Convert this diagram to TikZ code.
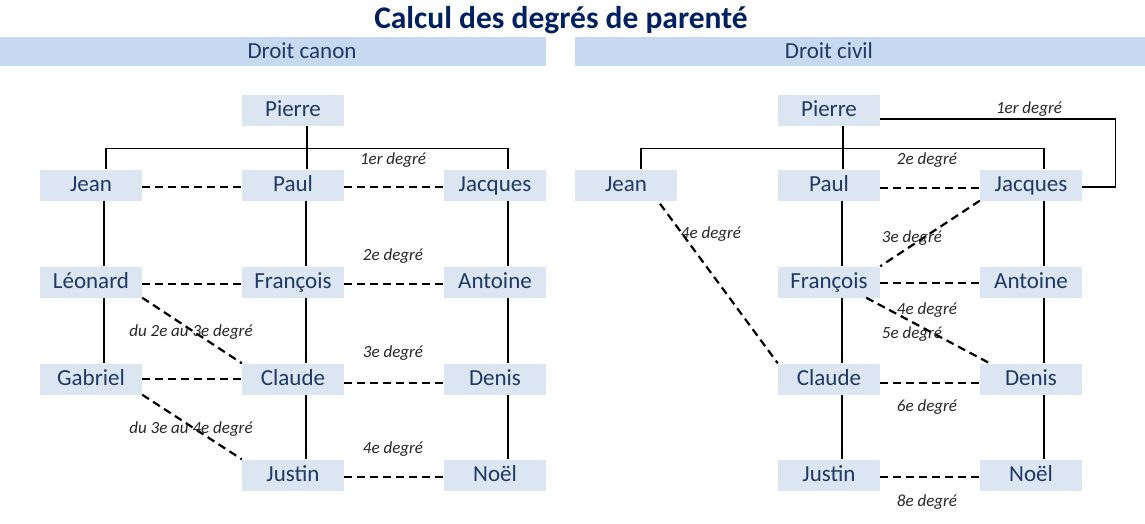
\documentclass[tikz,border=0pt]{standalone}
\usepackage{fontspec}
\setmainfont{Carlito}
\definecolor{azulosc}{HTML}{1F3864}
\definecolor{titulo}{HTML}{002060}
\definecolor{banda}{HTML}{C6D9F0}
\definecolor{caja}{HTML}{DCE6F2}
\definecolor{etiq}{HTML}{262626}
\begin{document}
\begin{tikzpicture}[x=1pt, y=-1pt,
    persona/.style={fill=caja, minimum width=102pt, minimum height=31pt, inner sep=0pt,
        text height=17pt, text depth=4pt, text=azulosc, font=\fontsize{23}{27}\selectfont},
    cabecera/.style={text height=17pt, text depth=4pt, text=azulosc, font=\fontsize{23}{27}\selectfont},
    grado/.style={inner sep=0pt, yshift=-2pt, text=etiq, font=\fontsize{17}{20}\selectfont\itshape},
    rama/.style={line width=1.1pt},
    lazo/.style={line width=2.2pt, dash pattern=on 8pt off 5pt}]
    \useasboundingbox (0,0) rectangle (1145,523);

    % Titulo y bandas
    \node[text=titulo, font=\fontsize{31.5}{36}\selectfont\bfseries] (titulo) at (561,20) {Calcul des degrés de parenté};
    \fill[banda] (0,37) rectangle (546,66);
    \fill[banda] (575,37) rectangle (1145,66);
    \node[cabecera] (canon) at (302,52) {Droit canon};
    \node[cabecera] (civil) at (829,52) {Droit civil};

    % Droit canon: personas
    \node[persona] (cPierre)   at (293,110) {Pierre};
    \node[persona] (cJean)     at (91,185)  {Jean};
    \node[persona] (cPaul)     at (293,185) {Paul};
    \node[persona] (cJacques)  at (495,185) {Jacques};
    \node[persona] (cLeonard)  at (91,282)  {Léonard};
    \node[persona] (cFrancois) at (293,282) {François};
    \node[persona] (cAntoine)  at (495,282) {Antoine};
    \node[persona] (cGabriel)  at (91,379)  {Gabriel};
    \node[persona] (cClaude)   at (293,379) {Claude};
    \node[persona] (cDenis)    at (495,379) {Denis};
    \node[persona] (cJustin)   at (293,475) {Justin};
    \node[persona] (cNoel)     at (495,475) {Noël};

    % Droit civil: personas
    \node[persona] (vPierre)   at (829,110) {Pierre};
    \node[persona] (vJean)     at (626,185) {Jean};
    \node[persona] (vPaul)     at (829,185) {Paul};
    \node[persona] (vJacques)  at (1031,185) {Jacques};
    \node[persona] (vFrancois) at (829,282) {François};
    \node[persona] (vAntoine)  at (1031,282) {Antoine};
    \node[persona] (vClaude)   at (829,379) {Claude};
    \node[persona] (vDenis)    at (1031,379) {Denis};
    \node[persona] (vJustin)   at (829,475) {Justin};
    \node[persona] (vNoel)     at (1031,475) {Noël};

    % Ramas del arbol (lineas continuas)
    \foreach \p in {c, v} {
        \draw[rama] ([xshift=15pt]\p Jean.north) -- ++(0,-21) -| ([xshift=13pt]\p Jacques.north);
        \draw[rama] ([xshift=14pt]\p Pierre.south) -- ([xshift=14pt]\p Paul.north);
    }
    \foreach \a/\b in {cJean/cLeonard, cLeonard/cGabriel, cPaul/cFrancois, cFrancois/cClaude,
        cClaude/cJustin, cJacques/cAntoine, cAntoine/cDenis, cDenis/cNoel,
        vPaul/vFrancois, vFrancois/vClaude, vClaude/vJustin,
        vJacques/vAntoine, vAntoine/vDenis, vDenis/vNoel}
        \draw[rama] ([xshift=13pt]\a.south) -- ([xshift=13pt]\b.north);
    \draw[rama] ([yshift=-9pt]vPierre.east) -- ++(235,0) |- ([yshift=-2pt]vJacques.east);

    % Lazos de parentesco (lineas discontinuas)
    \foreach \a/\b/\d in {cJean/cPaul/-2, cPaul/cJacques/-2, cLeonard/cFrancois/-2,
        cFrancois/cAntoine/-2, cGabriel/cClaude/0, cClaude/cDenis/-4, cJustin/cNoel/-2,
        vPaul/vJacques/-3, vFrancois/vAntoine/-1, vClaude/vDenis/-4, vJustin/vNoel/-2}
        \draw[lazo] ([yshift=\d pt]\a.east) -- ([yshift=\d pt]\b.west);
    \draw[lazo] (cLeonard.south east) -- (cClaude.north west);
    \draw[lazo] (cGabriel.south east) -- (cJustin.north west);
    \draw[lazo] ([xshift=34pt, yshift=-3pt]vJean.south) -- (vClaude.north west);
    \draw[lazo] (vJacques.south west) -- (vFrancois.north east);
    \draw[lazo] ([xshift=-14pt]vFrancois.south east) -- ([xshift=10pt]vDenis.north west);

    % Etiquetas de grados
    \node[grado] (g1c) at (393,158) {1er degré};
    \node[grado] (g2c) at (393,254) {2e degré};
    \node[grado] (g3c) at (393,351) {3e degré};
    \node[grado] (g4c) at (393,447) {4e degré};
    \node[grado] (g23) at (191,330) {du 2e au 3e degré};
    \node[grado] (g34) at (191,427) {du 3e au 4e degré};
    \node[grado] (g1v) at (1029,107) {1er degré};
    \node[grado] (g2v) at (927,158) {2e degré};
    \node[grado] (g4j) at (711,232) {4e degré};
    \node[grado] (g3v) at (912,236) {3e degré};
    \node[grado] (g4v) at (927,308) {4e degré};
    \node[grado] (g5v) at (912,332) {5e degré};
    \node[grado] (g6v) at (927,405) {6e degré};
    \node[grado] (g8v) at (927,500) {8e degré};

\end{tikzpicture}
\end{document}
